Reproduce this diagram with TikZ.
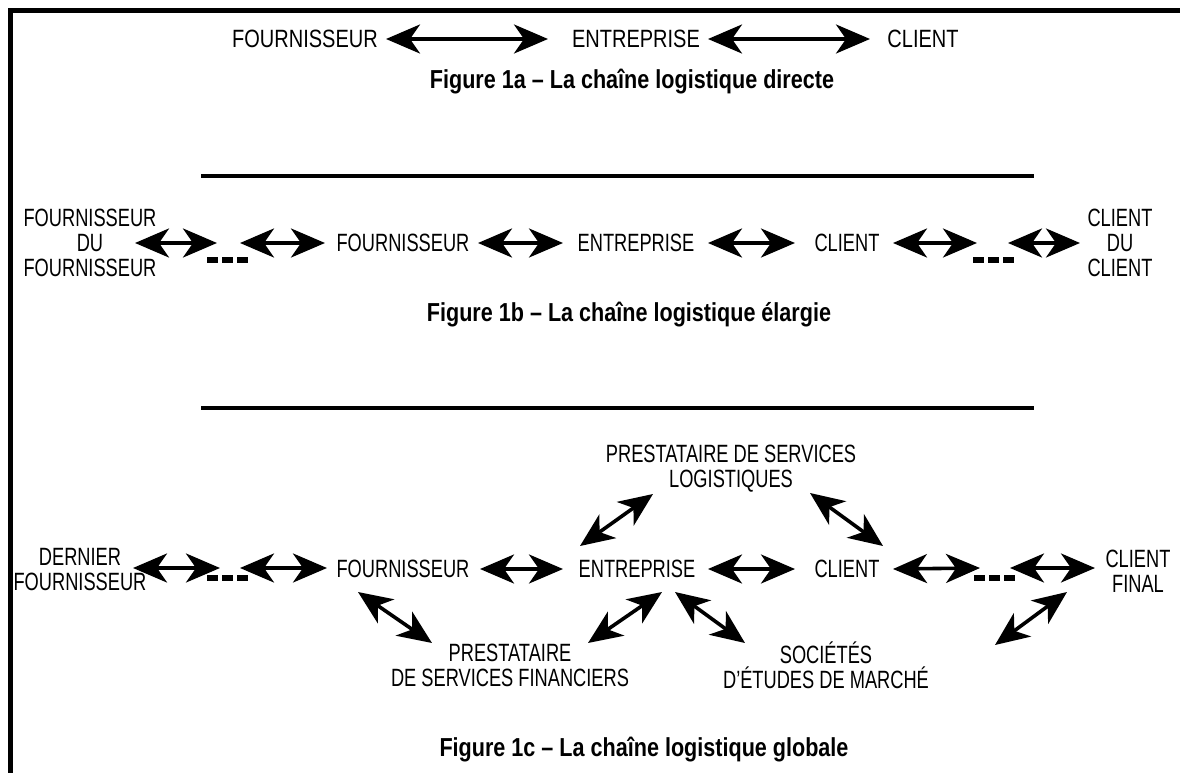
\documentclass[tikz,border=0pt]{standalone}
\usepackage{fontspec}
\setmainfont{Liberation Sans}[FakeStretch=0.73]
\newfontfamily\widecond{Liberation Sans}[FakeStretch=0.8]
\newfontfamily\capfont{Liberation Sans}[FakeStretch=0.83]
\usetikzlibrary{arrows.meta,calc}

% three short bars standing for "..."
\newcommand\dotbars{\rule{11pt}{6pt}\hspace{4pt}\rule{11pt}{6pt}\hspace{4pt}\rule{11pt}{6pt}}

\tikzset{
  lbl/.style={font=\fontsize{25}{25}\selectfont, inner sep=0pt, align=center},
  lbltop/.style={lbl, font=\widecond\fontsize{25}{25}\selectfont},
  caption/.style={font=\capfont\bfseries\fontsize{26}{28}\selectfont, inner sep=0pt},
  tip/.tip={Stealth[length=34pt,width=29pt,inset=10pt]},
  dbl/.style={line width=3.6pt, tip-tip},
  rulestyle/.style={line width=4.5pt},
  dotgroup/.style={inner sep=0pt},
}

\begin{document}
\begin{tikzpicture}[x=1pt,y=-1pt]
\useasboundingbox (0,0) rectangle (1180,773);
\fill[white] (0,0) rectangle (1180,773);

% frame (top and left edges)
\draw[line width=4.5pt] (10.5,800) -- (10.5,10.5) -- (1200,10.5);

% ---------- Figure 1a ----------
\node[lbltop] (f1) at (305,39) {FOURNISSEUR};
\node[lbltop] (e1) at (636,39) {ENTREPRISE};
\node[lbltop] (c1) at (923,39) {CLIENT};
\draw[dbl] ($(f1)+(81,0)$) -- ($(e1)+(-88,0)$);
\draw[dbl] ($(e1)+(72,0)$) -- ($(c1)+(-53,0)$);
\node[caption] (cap1) at (632,82) {Figure 1a – La chaîne logistique directe};

\draw[rulestyle] (201,176) -- (1034,176);

% ---------- Figure 1b ----------
\node[lbl] (fdf) at (90,243) {FOURNISSEUR\\DU\\FOURNISSEUR};
\node[dotgroup] (g1) at (227,260) {\dotbars};
\node[lbl] (f2) at (403,243) {FOURNISSEUR};
\node[lbl] (e2) at (636,243) {ENTREPRISE};
\node[lbl] (c2) at (847,243) {CLIENT};
\node[dotgroup] (g2) at (993,260) {\dotbars};
\node[lbl] (cdc) at (1120,243) {CLIENT\\DU\\CLIENT};
\draw[dbl] ($(fdf)+(45,0)$) -- ($(g1)+(-10,-17)$);
\draw[dbl] ($(g1)+(13,-17)$) -- ($(f2)+(-78,0)$);
\draw[dbl] ($(f2)+(75,0)$) -- ($(e2)+(-73,0)$);
\draw[dbl] ($(e2)+(72,0)$) -- ($(c2)+(-52,0)$);
\draw[dbl] ($(c2)+(46,0)$) -- ($(g2)+(-16,-17)$);
\draw[dbl] ($(g2)+(15,-17)$) -- ($(cdc)+(-40,0)$);
\node[caption] (cap2) at (629,315) {Figure 1b – La chaîne logistique élargie};

\draw[rulestyle] (201,408) -- (1034,408);

% ---------- Figure 1c ----------
\node[lbl] (log) at (731,469) {PRESTATAIRE DE SERVICES\\LOGISTIQUES};
\node[lbl] (df) at (80,570) {DERNIER\\FOURNISSEUR};
\node[dotgroup] (g3) at (227,578) {\dotbars};
\node[lbl] (f3) at (403,569) {FOURNISSEUR};
\node[lbl] (e3) at (637,569) {ENTREPRISE};
\node[lbl] (c3) at (847,569) {CLIENT};
\node[dotgroup] (g4) at (994,578) {\dotbars};
\node[lbl] (cf) at (1138,571) {CLIENT\\FINAL};
\node[lbl] (fin) at (510,665) {PRESTATAIRE\\DE SERVICES FINANCIERS};
\node[lbl] (soc) at (826,665) {SOCIÉTÉS\\D’ÉTUDES DE MARCHÉ};

\draw[dbl] ($(df)+(53,-2)$) -- ($(g3)+(-7,-10)$);
\draw[dbl] ($(g3)+(13,-10)$) -- ($(f3)+(-76,-1)$);
\draw[dbl] ($(f3)+(77,0)$) -- ($(e3)+(-74,0)$);
\draw[dbl] ($(e3)+(71,0)$) -- ($(c3)+(-52,0)$);
\draw[dbl] ($(c3)+(46,0)$) -- ($(g4)+(-14,-10)$);
\draw[dbl] ($(g4)+(16,-10)$) -- ($(cf)+(-43,-3)$);

\draw[dbl] ($(e3)+(-57,-23)$) -- ($(log)+(-78,25)$);
\draw[dbl] ($(log)+(79,24)$) -- ($(c3)+(36,-23)$);
\draw[dbl] ($(f3)+(-45,23)$) -- ($(fin)+(-78,-22)$);
\draw[dbl] ($(e3)+(25,23)$) -- ($(fin)+(78,-22)$);
\draw[dbl] ($(e3)+(38,23)$) -- ($(soc)+(-81,-22)$);
\draw[dbl] ($(cf)+(-71,21)$) -- ($(soc)+(169,-20)$);

\node[caption] (cap3) at (644,750) {Figure 1c – La chaîne logistique globale};
\end{tikzpicture}
\end{document}
